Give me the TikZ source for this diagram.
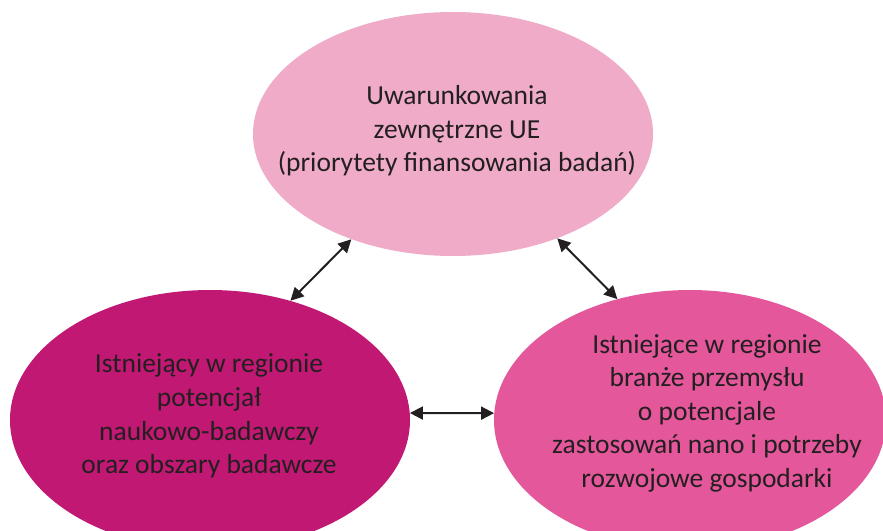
\documentclass[tikz,border=0pt]{standalone}
\usepackage{fontspec}
\setmainfont{Carlito}
\usetikzlibrary{shapes.geometric,arrows.meta}
\definecolor{toppink}{RGB}{239,171,200}
\definecolor{leftmag}{RGB}{192,24,115}
\definecolor{rightpink}{RGB}{228,87,155}
\definecolor{ink}{RGB}{35,31,32}
\tikzset{
  bubble/.style={ellipse,draw=none,inner sep=0pt,minimum width=400pt,minimum height=#1},
  caption/.style={align=center,text=ink,font=\fontsize{27.5}{33.5}\selectfont,inner sep=0pt},
  link/.style={ink,line width=2pt,{Triangle[length=13pt,width=13pt]}-{Triangle[length=13pt,width=13pt]}}
}
\begin{document}
\begin{tikzpicture}[x=1pt,y=-1pt]
\clip (0,0) rectangle (883,530);
\fill[white] (0,0) rectangle (883,530);
% the three areas
\node[bubble=244pt,fill=toppink] (ue) at (453,134) {};
\node[bubble=260pt,fill=leftmag] (sci) at (210,420) {};
\node[bubble=260pt,fill=rightpink,minimum width=392pt] (ind) at (690,420) {};
% their descriptions
\node[caption] (uet) at (457,131) {Uwarunkowania\\zewnętrzne UE\\(priorytety finansowania badań)};
\node[caption] (scit) at (209,416) {Istniejący w regionie\\potencjał\\naukowo-badawczy\\oraz obszary badawcze};
\node[caption] (indt) at (707,413) {Istniejące w regionie\\branże przemysłu\\o potencjale\\zastosowań nano i potrzeby\\rozwojowe gospodarki};
% mutual links
\draw[link] (sci.56) -- (ue.226);
\draw[link] (ue.315) -- (ind.121);
\draw[link] (sci.2) -- (ind.178);
\end{tikzpicture}
\end{document}
